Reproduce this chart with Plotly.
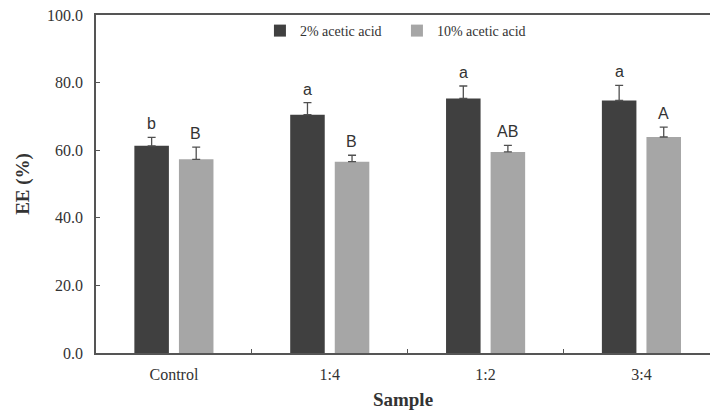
import plotly.graph_objects as go

categories = ["Control", "1:4", "1:2", "3:4"]
series_names = ["2% acetic acid", "10% acetic acid"]
ee_2pct = [61.3, 70.5, 75.3, 74.7]
err_2pct = [2.5, 3.6, 3.7, 4.5]
ee_10pct = [57.3, 56.6, 59.5, 63.9]
err_10pct = [3.6, 1.9, 1.9, 2.9]
letters_2pct = ["b", "a", "a", "a"]
letters_10pct = ["B", "B", "AB", "A"]
y_ticks = [0, 20, 40, 60, 80, 100]
y_ticklabels = ["0.0", "20.0", "40.0", "60.0", "80.0", "100.0"]

dark = "#404040"
light = "#a6a6a6"
errc = "#505050"
serif = "Liberation Serif, Times New Roman, serif"
txtc = "#333333"

fig = go.Figure()
for name, vals, errs, col in [
    (series_names[0], ee_2pct, err_2pct, dark),
    (series_names[1], ee_10pct, err_10pct, light),
]:
    fig.add_trace(go.Bar(
        x=categories, y=vals, name=name, marker=dict(color=col, line=dict(width=0)),
        error_y=dict(type="data", array=errs, arrayminus=[0] * len(errs), symmetric=False,
                     color=errc, thickness=1.3, width=4),
        offsetgroup=name,
    ))

# significance letters
for i, cat in enumerate(categories):
    for k, (vals, errs, labs) in enumerate([(ee_2pct, err_2pct, letters_2pct), (ee_10pct, err_10pct, letters_10pct)]):
        fig.add_annotation(
            x=cat, y=vals[i] + errs[i], xref="x", yref="y",
            text=labs[i], showarrow=False, yanchor="bottom", yshift=3,
            xshift=(-22 if k == 0 else 22),
            font=dict(family="Liberation Sans, Arial, sans-serif", size=16, color=txtc),
        )

fig.update_layout(
    width=710, height=414,
    margin=dict(l=96, r=0, t=15, b=61),
    paper_bgcolor="white", plot_bgcolor="white",
    barmode="group", bargap=0.428, bargroupgap=0.225,
    font=dict(family=serif, color=txtc),
    showlegend=True,
    legend=dict(orientation="h", x=0.267, y=1.0, xanchor="left", yanchor="top",
                font=dict(size=14, family=serif, color=txtc),
                bgcolor="rgba(0,0,0,0)", itemwidth=30, entrywidthmode="pixels", entrywidth=92),
)

fig.update_xaxes(
    range=[-0.5, 3.44], showline=True, linecolor="#555555", linewidth=1.5, mirror=True,
    ticks="inside", tickson="boundaries", ticklen=4, tickcolor="#555555",
    tickfont=dict(size=16, family=serif, color=txtc),
    ticklabelstandoff=6,
    title=dict(text="<b>Sample</b>", font=dict(size=19, family=serif, color=txtc), standoff=11),
    showgrid=False, zeroline=False,
)
fig.update_yaxes(
    range=[0, 100], tickvals=y_ticks, ticktext=y_ticklabels,
    showline=True, linecolor="#555555", linewidth=1.5,
    ticks="inside", ticklen=4, tickcolor="#555555",
    tickfont=dict(size=16, family=serif, color=txtc),
    ticklabelstandoff=8,
    title=dict(text="<b>EE (%)</b>", font=dict(size=19, family=serif, color=txtc), standoff=12),
    showgrid=False, zeroline=False,
)

fig.write_html("out.html", config={"displayModeBar": False},
               post_script="document.body.style.margin='0px';")
